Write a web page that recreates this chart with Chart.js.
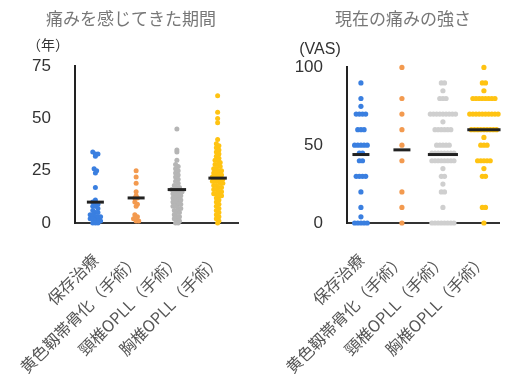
<!DOCTYPE html>
<html>
<head>
<meta charset="utf-8">
<script src="https://cdn.jsdelivr.net/npm/chart.js@4.4.9/dist/chart.umd.min.js"></script>
<style>
  html, body { margin: 0; padding: 0; background: #fff; }
  #wrap { position: relative; width: 517px; height: 384px; }
  .box { position: absolute; top: 0; height: 384px; }
</style>
</head>
<body>
<div id="wrap">
  <div class="box" style="left:0;width:262px"><canvas id="years"></canvas></div>
  <div class="box" style="left:262px;width:255px"><canvas id="vas"></canvas></div>
</div>
<script>
const categories = ['保存治療', '黄色靱帯骨化（手術）', '頸椎OPLL（手術）', '胸椎OPLL（手術）'];
const pointColors = ['#3a7fe0', '#f39a4f', '#b5b5b5', '#ffc312'];

// 痛みを感じてきた期間（年）
const yearsConservative = [34, 33, 33, 32, 26, 25, 24, 17, 11, 10, 10, 9, 8, 8, 7, 6, 5, 5, 4, 4, 3, 3, 3, 2, 2, 1, 1, 1, 0, 0, 0];
const yearsOLF = [25, 22, 19, 15, 13, 12, 12, 10, 9, 8, 4, 3, 2, 1, 1];
const yearsCervical = [45, 35, 34, 30, 28, 27, 26, 25, 24, 23, 22, 21, 20, 19, 18, 17, 17, 16, 16, 15, 15, 15, 14, 14, 13, 13, 12, 12, 11, 11, 10, 10, 9, 9, 8, 8, 7, 7, 6, 5, 5, 4, 3, 3, 2, 1, 1, 0, 0];
const yearsThoracic = [61, 53, 50, 48, 40, 38, 37, 36, 35, 34, 33, 32, 31, 30, 30, 29, 28, 28, 27, 26, 26, 25, 25, 24, 24, 23, 23, 22, 22, 22, 21, 21, 20, 20, 20, 19, 19, 18, 18, 17, 17, 16, 16, 15, 15, 14, 14, 13, 13, 12, 11, 10, 9, 8, 7, 6, 5, 4, 3, 2, 1, 0];
const yearsMedians = [10, 12, 16, 21.5];
const yearTicks = [0, 25, 50, 75];

// 現在の痛みの強さ (VAS)
const vasConservative = [90, 80, 75, 70, 70, 70, 70, 60, 60, 60, 50, 50, 50, 50, 50, 45, 45, 40, 40, 30, 30, 30, 30, 20, 10, 4, 0, 0, 0, 0, 0];
const vasOLF = [100, 80, 70, 60, 50, 40, 20, 10, 0];
const vasCervical = [90, 90, 85, 80, 80, 80, 70, 70, 70, 70, 70, 70, 70, 70, 70, 65, 60, 60, 60, 60, 60, 60, 50, 50, 50, 50, 50, 45, 45, 45, 45, 45, 45, 45, 45, 40, 40, 40, 40, 40, 40, 40, 40, 35, 30, 30, 25, 20, 20, 10, 0, 0, 0, 0, 0, 0, 0, 0];
const vasThoracic = [100, 90, 90, 85, 80, 80, 80, 80, 80, 80, 80, 80, 70, 70, 70, 70, 70, 70, 70, 70, 70, 70, 60, 60, 60, 60, 60, 60, 60, 60, 60, 55, 50, 50, 50, 40, 40, 40, 40, 40, 35, 30, 30, 10, 10, 0];
const vasMedians = [44, 47, 44, 60];
const vasTicks = [0, 50, 100];

// simple bin-based swarm: points in the same bin are spread side by side
function swarm(values, cat, binSize, step) {
  const counts = {};
  values.forEach(v => { const b = Math.round(v / binSize); counts[b] = (counts[b] || 0) + 1; });
  const seen = {};
  return values.map(v => {
    const b = Math.round(v / binSize);
    const i = seen[b] = (seen[b] || 0) + 1;
    return { x: cat + (i - 1 - (counts[b] - 1) / 2) * step, y: v };
  });
}

// widest row of points close to the median
function rowWidth(values, m, binSize, tol) {
  const counts = {};
  values.filter(v => Math.abs(v - m) <= tol).forEach(v => {
    const b = Math.round(v / binSize);
    counts[b] = (counts[b] || 0) + 1;
  });
  return Math.max(0, ...Object.values(counts));
}

const unitLabel = {
  id: 'unitLabel',
  afterDraw(chart, args, opts) {
    const { ctx, chartArea } = chart;
    ctx.save();
    ctx.font = opts.font;
    ctx.fillStyle = '#333';
    ctx.textAlign = 'center';
    ctx.textBaseline = 'middle';
    ctx.fillText(opts.text, chartArea.left - 27, chartArea.top - opts.rise);
    ctx.restore();
  }
};

function makeChart(id, cfg) {
  const datasets = cfg.series.map((vals, i) => ({
    data: swarm(vals, i + 1, cfg.bin, cfg.step),
    backgroundColor: cfg.colors[i],
    borderColor: cfg.colors[i],
    borderWidth: 0,
    pointRadius: cfg.radius,
    clip: false,
    order: 1
  }));
  datasets.push({
    data: cfg.medians.map((m, i) => ({ x: i + 1, y: m })),
    pointStyle: 'line',
    borderColor: '#222',
    borderWidth: 3,
    pointRadius: c => {
      const xs = c.chart.scales.x;
      const px = xs.getPixelForValue(2) - xs.getPixelForValue(1);
      const n = rowWidth(cfg.series[c.dataIndex], cfg.medians[c.dataIndex], cfg.bin, cfg.tol);
      return Math.max(8.5, (n - 1) / 2 * cfg.step * px + 4);
    },
    clip: false,
    order: 0
  });

  return new Chart(document.getElementById(id), {
    type: 'scatter',
    data: { datasets },
    plugins: [unitLabel],
    options: {
      responsive: true,
      maintainAspectRatio: false,
      animation: false,
      events: [],
      layout: { padding: cfg.padding },
      plugins: {
        legend: { display: false },
        tooltip: { enabled: false },
        title: {
          display: true,
          text: cfg.title,
          color: '#777',
          font: { size: 17, family: '"Noto Sans CJK JP"', weight: 'normal' },
          padding: { top: 8, bottom: cfg.titleGap }
        },
        unitLabel: { text: cfg.unit, font: cfg.unitFont, rise: cfg.unitRise }
      },
      scales: {
        x: {
          type: 'linear',
          min: cfg.xMin,
          max: cfg.xMax,
          afterBuildTicks: s => { s.ticks = categories.map((c, i) => ({ value: i + 1 })); },
          afterFit: s => { s.height = 161; },
          grid: { display: false },
          border: { display: true, color: '#333', width: 2 },
          ticks: {
            autoSkip: false,
            minRotation: 45,
            maxRotation: 45,
            padding: 19,
            color: '#555',
            font: { size: 16, family: '"Noto Sans CJK JP"' },
            callback: v => categories[Math.round(v) - 1]
          }
        },
        y: {
          min: 0,
          max: cfg.ticks[cfg.ticks.length - 1],
          afterBuildTicks: s => { s.ticks = cfg.ticks.map(v => ({ value: v })); },
          afterFit: s => { s.width = cfg.yWidth; },
          grid: { display: false },
          border: { display: true, color: '#222', width: 2 },
          ticks: {
            padding: 16,
            color: '#333',
            font: { size: 17, family: '"Liberation Sans"' }
          }
        }
      }
    }
  });
}

makeChart('years', {
  title: '痛みを感じてきた期間',
  unit: '（年）',
  unitFont: '14px "Noto Sans CJK JP"',
  unitRise: 22,
  series: [yearsConservative, yearsOLF, yearsCervical, yearsThoracic],
  medians: yearsMedians,
  ticks: yearTicks,
  colors: pointColors,
  bin: 2,
  tol: 1,
  step: 0.064,
  radius: 2.5,
  xMin: 0.5,
  xMax: 4.5,
  yWidth: 51,
  titleGap: 38,
  padding: { left: 24, right: 24, top: 0, bottom: 0 }
});

makeChart('vas', {
  title: '現在の痛みの強さ',
  unit: '(VAS)',
  unitFont: '16px "Liberation Sans"',
  unitRise: 18,
  series: [vasConservative, vasOLF, vasCervical, vasThoracic],
  medians: vasMedians,
  ticks: vasTicks,
  colors: ['#3a7fe0', '#f39a4f', '#cfcfcf', '#ffc312'],
  bin: 1,
  tol: 1.5,
  step: 0.077,
  radius: 2.6,
  xMin: 0.66,
  xMax: 4.38,
  yWidth: 53,
  titleGap: 39,
  padding: { left: 32, right: 5, top: 0, bottom: 0 }
});
</script>
</body>
</html>
